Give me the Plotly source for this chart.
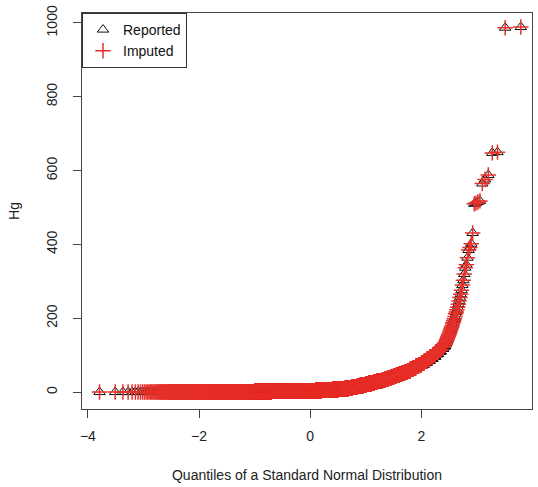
import numpy as np
import plotly.graph_objects as go
from statistics import NormalDist

# Hg sample, stored as ascending concentration levels and the number of
# observations at each level (the upper tail is listed value by value).
hg_imputed = [
    0.2, 0.5, 0.8, 1.2, 1.6, 2.0, 2.5, 3.0, 3.5, 4.0, 4.5, 5.0, 5.5, 6.0,
    7.0, 8.0, 9.0, 10, 11, 12, 13, 14.5, 16, 18, 20, 22, 23.5, 25, 27, 29,
    31, 33, 35, 38, 40, 43, 46, 49, 52, 55, 58, 62, 66, 70, 74, 79, 84, 89,
    95, 101, 108, 115, 122, 129,
    133, 136, 139, 142, 145, 148, 151, 154, 157, 160, 164, 168, 172, 176,
    180, 185, 189, 194, 199, 205, 212, 217, 223, 230, 238, 247, 256, 265,
    276, 290, 303, 320, 337, 345, 364, 385, 392, 402, 431,
    510, 512, 515, 518, 565, 576, 588, 648, 650, 987, 989,
]
hg_reported = [
    0.2, 0.5, 0.8, 1.2, 1.6, 2.0, 2.5, 3.0, 3.5, 4.0, 4.5, 5.0, 5.5, 6.0,
    7.0, 8.0, 9.0, 10, 11, 12, 13, 14.5, 16, 18, 20, 22, 23.5, 25, 27, 29,
    31, 33, 35, 37, 39, 42, 44, 47, 50, 53, 56, 59, 63, 67, 71, 75, 80, 85,
    90, 96, 103, 110, 117, 124,
    129, 132, 135, 138, 141, 144, 147, 150, 153, 157, 161, 165, 169, 173,
    178, 183, 188, 193, 198, 204, 211, 217, 223, 230, 238, 247, 256, 265,
    276, 290, 303, 320, 337, 345, 364, 385, 392, 402, 431,
    510, 512, 515, 518, 565, 576, 588, 648, 650, 987, 989,
]
n_obs = [
    71, 168, 298, 518, 554, 443, 489, 388, 396, 265, 262, 207, 176, 148,
    216, 161, 133, 106, 42, 102, 98, 94, 91, 84, 85, 78, 75, 70, 67, 63,
    58, 54, 53, 47, 46, 41, 39, 34, 33, 30, 28, 25, 23, 21, 19, 16, 16, 14,
    13, 11, 10, 9, 7, 5,
] + [1] * 50

legend_names = ["Reported", "Imputed"]
x_ticks = [-4, -2, 0, 2, 4]
y_ticks = [0, 200, 400, 600, 800, 1000]
x_label = "Quantiles of a Standard Normal Distribution"
y_label = "Hg"


def normal_qq(levels, counts):
    """Sorted sample against theoretical normal quantiles (ppoints, a=0.5)."""
    y = np.sort(np.repeat(np.asarray(levels, float), counts))
    n = y.size
    nd = NormalDist()
    x = np.array([nd.inv_cdf((i - 0.5) / n) for i in range(1, n + 1)])
    return x, y


xr, yr = normal_qq(hg_reported, n_obs)
xi, yi = normal_qq(hg_imputed, n_obs)

RED = "#e6302a"
fig = go.Figure()
fig.add_trace(go.Scatter(
    x=xr, y=yr, mode="markers", name=legend_names[0],
    marker=dict(symbol="triangle-up-open", size=10, color="#111111",
                line=dict(color="#111111", width=1)),
))
fig.add_trace(go.Scatter(
    x=xi, y=yi, mode="markers", name=legend_names[1],
    marker=dict(symbol="cross-thin-open", size=11, color=RED,
                line=dict(color=RED, width=1.5)),
))

axis_common = dict(
    showgrid=False, zeroline=False, showline=True, mirror=True,
    linecolor="#444444", linewidth=1,
    ticks="outside", ticklen=8, tickcolor="#444444", tickwidth=1,
    tickfont=dict(family="Liberation Sans, Arial, sans-serif", size=14,
                  color="#222222"),
)

fig.update_layout(
    width=538, height=487,
    margin=dict(l=82, r=5, t=10, b=78),
    paper_bgcolor="white", plot_bgcolor="white",
    font=dict(family="Liberation Sans, Arial, sans-serif", size=14,
              color="#222222"),
    showlegend=True,
    legend=dict(
        x=0, y=1, xanchor="left", yanchor="top",
        bgcolor="white", bordercolor="#333333", borderwidth=1,
        font=dict(size=14, color="#111111"),
        itemwidth=30, tracegroupgap=0,
    ),
    xaxis=dict(
        range=[-4.106, 3.991], tickvals=x_ticks,
        title=dict(text=x_label, standoff=27,
                   font=dict(size=14, color="#222222")),
        ticklabelstandoff=6,
        **axis_common,
    ),
    yaxis=dict(
        range=[-45.7, 1026.9], tickvals=y_ticks, tickangle=-90,
        title=dict(text=y_label, standoff=21,
                   font=dict(size=14, color="#222222")),
        ticklabelstandoff=10,
        **axis_common,
    ),
)

fig.write_html("out.html")
